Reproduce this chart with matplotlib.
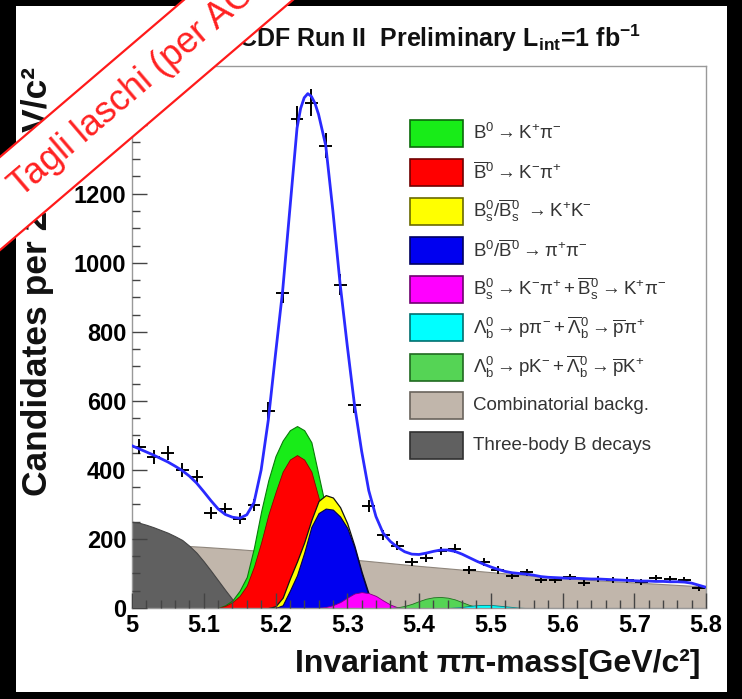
import numpy as np
import matplotlib
matplotlib.use("Agg")
import matplotlib.pyplot as plt
from matplotlib.patches import Rectangle, Polygon
from matplotlib.ticker import MultipleLocator, FuncFormatter

plt.rcParams['mathtext.fontset'] = 'custom'
plt.rcParams['mathtext.rm'] = 'Liberation Sans'
plt.rcParams['mathtext.it'] = 'Liberation Sans'
plt.rcParams['mathtext.bf'] = 'Liberation Sans:bold'
plt.rcParams['font.family'] = ['Liberation Sans', 'DejaVu Sans']

# ---------------- data ----------------
bin_centers = [5.01, 5.03, 5.05, 5.07, 5.09, 5.11, 5.13, 5.15, 5.17, 5.19,
               5.21, 5.23, 5.25, 5.27, 5.29, 5.31, 5.33, 5.35, 5.37, 5.39,
               5.41, 5.43, 5.45, 5.47, 5.49, 5.51, 5.53, 5.55, 5.57, 5.59,
               5.61, 5.63, 5.65, 5.67, 5.69, 5.71, 5.73, 5.75, 5.77, 5.79]
counts = [467, 438, 449, 400, 380, 275, 287, 258, 299, 572,
          913, 1417, 1464, 1339, 936, 588, 296, 212, 180, 133,
          146, 165, 171, 110, 133, 110, 93, 104, 81, 81,
          90, 72, 84, 81, 81, 75, 87, 84, 81, 58]

fit_x = [5.00, 5.01, 5.02, 5.03, 5.04, 5.05, 5.06, 5.07, 5.08, 5.09,
         5.10, 5.11, 5.12, 5.13, 5.14, 5.15, 5.16, 5.17, 5.18, 5.19,
         5.20, 5.21, 5.22, 5.23, 5.235, 5.24, 5.245, 5.25, 5.255, 5.26,
         5.27, 5.28, 5.29, 5.30, 5.31, 5.32, 5.33, 5.34, 5.35, 5.36,
         5.37, 5.38, 5.39, 5.40, 5.41, 5.42, 5.43, 5.44, 5.45, 5.46,
         5.47, 5.48, 5.49, 5.50, 5.51, 5.52, 5.53, 5.54, 5.55, 5.56,
         5.57, 5.58, 5.59, 5.60, 5.61, 5.62, 5.63, 5.64, 5.65, 5.66,
         5.67, 5.68, 5.69, 5.70, 5.71, 5.72, 5.73, 5.74, 5.75, 5.76,
         5.77, 5.78, 5.79, 5.80]
fit_y = [470, 461, 452, 443, 433, 423, 411, 398, 382, 362,
         337, 311, 287, 271, 263, 260, 270, 305, 400, 545,
         735, 920, 1155, 1390, 1447, 1478, 1490, 1482, 1462, 1430,
         1340, 1150, 940, 760, 590, 455, 340, 265, 217, 193,
         176, 163, 156, 155, 159, 164, 168, 168, 164, 156,
         146, 136, 127, 119, 112, 106, 102, 100, 98, 95,
         91, 89, 88, 87, 86, 86, 85, 84, 84, 83,
         82, 81, 80, 79, 78, 78, 77, 77, 76, 76,
         75, 72, 66, 60]

comb_x = [5.00, 5.05, 5.10, 5.15, 5.20, 5.25, 5.30, 5.35, 5.40, 5.45,
          5.50, 5.55, 5.60, 5.65, 5.70, 5.75, 5.80]
comb_y = [188, 183, 177, 170, 162, 152, 142, 132, 122, 113,
          104, 95, 87, 80, 74, 68, 62]

three_x = [5.00, 5.01, 5.02, 5.03, 5.04, 5.05, 5.06, 5.07, 5.08, 5.09,
           5.10, 5.11, 5.12, 5.13, 5.14, 5.15, 5.16]
three_y = [250, 247, 241, 234, 226, 218, 208, 197, 180, 160,
           135, 108, 80, 52, 25, 5, 0]

kpi_x = [5.12, 5.13, 5.14, 5.15, 5.16, 5.17, 5.18, 5.19, 5.20, 5.21,
         5.22, 5.23, 5.24, 5.25, 5.26, 5.27, 5.28, 5.29, 5.30, 5.31,
         5.32, 5.33]
kpi_y = [0, 8, 22, 50, 90, 175, 280, 370, 440, 485,
         515, 527, 515, 480, 385, 290, 200, 120, 65, 30,
         10, 0]

kpibar_x = [5.12, 5.13, 5.14, 5.15, 5.16, 5.17, 5.18, 5.19, 5.20, 5.21,
            5.22, 5.23, 5.24, 5.25, 5.26, 5.27, 5.28, 5.29, 5.30, 5.31,
            5.32, 5.33]
kpibar_y = [0, 6, 17, 35, 65, 120, 190, 270, 335, 395,
            430, 443, 430, 395, 320, 240, 160, 95, 50, 20,
            5, 0]

kk_x = [5.19, 5.20, 5.21, 5.22, 5.23, 5.24, 5.25, 5.26, 5.27, 5.28,
        5.29, 5.30, 5.31, 5.32, 5.33, 5.34, 5.35]
kk_y = [0, 5, 30, 85, 135, 190, 255, 310, 327, 320,
        292, 245, 180, 105, 40, 5, 0]

pipi_x = [5.20, 5.21, 5.22, 5.23, 5.24, 5.25, 5.26, 5.27, 5.28, 5.29,
          5.30, 5.31, 5.32, 5.33, 5.34, 5.35]
pipi_y = [0, 8, 50, 95, 160, 235, 275, 288, 285, 265,
          232, 175, 100, 35, 3, 0]

bskpi_x = [5.26, 5.27, 5.28, 5.29, 5.30, 5.31, 5.32, 5.33, 5.34, 5.35,
           5.36, 5.37, 5.38]
bskpi_y = [0, 3, 8, 17, 30, 42, 46, 43, 35, 22, 10, 2, 0]

lbpk_x = [5.36, 5.37, 5.38, 5.39, 5.40, 5.41, 5.42, 5.43, 5.44, 5.45,
          5.46, 5.47, 5.48, 5.49]
lbpk_y = [0, 2, 6, 12, 20, 27, 31, 32, 30, 25, 17, 9, 3, 0]

lbppi_x = [5.44, 5.46, 5.47, 5.48, 5.49, 5.50, 5.51, 5.52, 5.53, 5.54, 5.55]
lbppi_y = [0, 3, 6, 8, 9, 9, 7, 5, 3, 1, 0]

x_ticks = [5.0, 5.1, 5.2, 5.3, 5.4, 5.5, 5.6, 5.7, 5.8]

legend_labels = [
    r"$\mathrm{B^0 \rightarrow K^{+}\pi^{-}}$",
    r"$\mathrm{\overline{B}^0 \rightarrow K^{-}\pi^{+}}$",
    r"$\mathrm{B_s^0/\overline{B}_s^0 \ \rightarrow K^{+}K^{-}}$",
    r"$\mathrm{B^0/\overline{B}^0 \rightarrow \pi^{+}\pi^{-}}$",
    r"$\mathrm{B_s^0 \rightarrow K^{-}\pi^{+} + \overline{B}_s^0 \rightarrow K^{+}\pi^{-}}$",
    r"$\mathrm{\Lambda_b^0 \rightarrow p\pi^{-} + \overline{\Lambda}_b^0 \rightarrow \overline{p}\pi^{+}}$",
    r"$\mathrm{\Lambda_b^0 \rightarrow pK^{-} + \overline{\Lambda}_b^0 \rightarrow \overline{p}K^{+}}$",
    "Combinatorial backg.",
    "Three-body B decays",
]
legend_colors = ['#18ec18', '#ff0000', '#ffff00', '#0000f0', '#ff00ff',
                 '#00ffff', '#55d455', '#c1b6ab', '#606060']
legend_edges = ['#0a6a0a', '#700000', '#6a6a00', '#000060', '#700070',
                '#007070', '#206a20', '#6a645c', '#303030']

# ---------------- figure ----------------
W, H = 742, 699
def fx(px):
    return px / W
def fy(py):
    return 1 - py / H

fig = plt.figure(figsize=(W / 100, H / 100), dpi=100, facecolor='black')
fig.patches.append(Rectangle((fx(16), fy(692)), (727 - 16) / W, (692 - 6) / H,
                             transform=fig.transFigure, facecolor='white',
                             edgecolor='none', zorder=-5))

ax = fig.add_axes([fx(132), fy(608), 574 / W, 542 / H])
ax.set_facecolor('white')

ax.fill_between(comb_x, 0, comb_y, facecolor='#c1b6ab', edgecolor='#8f867c', linewidth=0.8, zorder=1.0)
ax.fill_between(three_x, 0, three_y, facecolor='#606060', edgecolor='#454545', linewidth=0.8, zorder=1.1)
ax.fill_between(kpi_x, 0, kpi_y, facecolor='#18ec18', edgecolor='#0a7a0a', linewidth=0.8, zorder=1.2)
ax.fill_between(kpibar_x, 0, kpibar_y, facecolor='#ff0000', edgecolor='#900000', linewidth=0.6, zorder=1.3)
ax.fill_between(kk_x, 0, kk_y, facecolor='#ffff00', edgecolor='#111111', linewidth=0.9, zorder=1.4)
ax.fill_between(pipi_x, 0, pipi_y, facecolor='#0000f0', edgecolor='#000050', linewidth=0.8, zorder=1.5)
ax.fill_between(bskpi_x, 0, bskpi_y, facecolor='#ff00ff', edgecolor='#800080', linewidth=0.6, zorder=1.6)
ax.fill_between(lbpk_x, 0, lbpk_y, facecolor='#55d455', edgecolor='#207020', linewidth=0.6, zorder=1.7)
ax.fill_between(lbppi_x, 0, lbppi_y, facecolor='#00ffff', edgecolor='#008080', linewidth=0.6, zorder=1.8)

ax.errorbar(bin_centers, counts, yerr=np.sqrt(counts), xerr=0.009, fmt='none',
            ecolor='black', elinewidth=1.4, capsize=0, zorder=3)
ax.plot(fit_x, fit_y, color='#2a2aff', lw=2.0, zorder=4)

ax.set_xlim(5.0, 5.8)
ax.set_ylim(0, 1570)
ax.set_xticks(x_ticks)
ax.xaxis.set_minor_locator(MultipleLocator(0.02))
ax.yaxis.set_major_locator(MultipleLocator(200))
ax.yaxis.set_minor_locator(MultipleLocator(50))
ax.xaxis.set_major_formatter(FuncFormatter(lambda v, p: f"{v:g}"))
ax.yaxis.set_major_formatter(FuncFormatter(lambda v, p: f"{v:g}"))
ax.set_axisbelow(False)
ax.tick_params(which='both', direction='in', top=False, right=False, color='#444444', width=1.0)
ax.tick_params(which='major', length=10.5)
ax.tick_params(which='minor', length=5.5)
ax.tick_params(axis='x', which='major', pad=4.5)
ax.tick_params(axis='y', which='major', pad=4)
for lab in ax.get_xticklabels() + ax.get_yticklabels():
    lab.set_fontsize(17)
    lab.set_fontweight('bold')
    lab.set_family('Liberation Sans')
for sp in ax.spines.values():
    sp.set_color('#999999')
    sp.set_linewidth(1.0)

# title and axis titles
fig.text(fx(238), fy(47), r"CDF Run II  Preliminary L$_{\mathbf{int}}$=1 fb$^{\mathbf{-1}}$",
         ha='left', va='baseline', fontsize=18, fontweight='bold', color='#111111')
fig.text(fx(38), fy(281), "Candidates per 20 MeV/c²", rotation=90, ha='center', va='center',
         fontsize=25.5, fontweight='bold', color='#111111')
fig.text(fx(700), fy(664), "Invariant ππ-mass[GeV/c²]", ha='right', va='center',
         fontsize=23, fontweight='bold', color='#111111')

# legend
for i, (lab, col, edg) in enumerate(zip(legend_labels, legend_colors, legend_edges)):
    yc = 133 + i * 39.0
    fig.patches.append(Rectangle((fx(410), fy(yc + 13.5)), 53 / W, 27 / H,
                                 transform=fig.transFigure, facecolor=col,
                                 edgecolor=edg, linewidth=1.2, zorder=5))
    fig.text(fx(473), fy(yc), lab, ha='left', va='center', fontsize=13.5,
             color='#333333', zorder=5)

# red stamp
ang = np.deg2rad(40.5)
u = np.array([np.cos(ang), -np.sin(ang)])
n = np.array([np.sin(ang), np.cos(ang)])
c0 = np.array([0.0, 203.5])
hh = 35.4
corners = [c0 + t * u + s * n for t, s in [(-120, -hh), (600, -hh), (600, hh), (-120, hh)]]
poly = Polygon([(fx(p[0]), fy(p[1])) for p in corners], closed=True,
               transform=fig.transFigure, facecolor='white', edgecolor='#ff1a1a',
               linewidth=1.6, zorder=20)
fig.patches.append(poly)
start = c0 + 19.0 * u
fig.text(fx(start[0]), fy(start[1]), "Tagli laschi (per ACP)", rotation=40.5, rotation_mode='anchor',
         ha='left', va='center', fontsize=26, color='#ff2020', zorder=21)

fig.savefig("out.png", dpi=100, facecolor=fig.get_facecolor())
